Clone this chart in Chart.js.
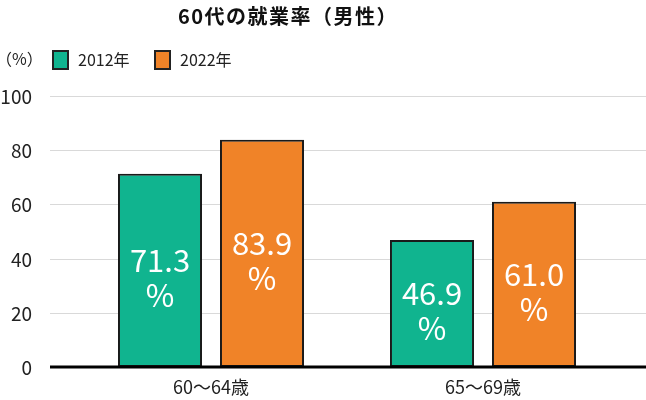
<!DOCTYPE html>
<html><head><meta charset="utf-8">
<script src="https://cdn.jsdelivr.net/npm/chart.js@4/dist/chart.umd.min.js"></script>
<style>html,body{margin:0;padding:0;background:#fff}#wrap{width:646px;height:400px}</style>
</head><body><div id="wrap"><canvas id="c" width="646" height="400"></canvas></div>
<script>
const categories = ['60〜64歳', '65〜69歳'];
const seriesNames = ['2012年', '2022年'];
const values2012 = [71.3, 46.9];
const values2022 = [83.9, 61.0];
const yTicks = [0, 20, 40, 60, 80, 100];
const colors = ['#10B48F', '#F08328'];
const FONT = '"Noto Sans CJK JP", "Noto Sans", sans-serif';

const extras = {
  id: 'extras',
  beforeDatasetsDraw(chart) {
    const ctx = chart.ctx, y = chart.scales.y;
    ctx.save();
    ctx.strokeStyle = '#d9d9d9'; ctx.lineWidth = 1;
    ctx.fillStyle = '#222'; ctx.textAlign = 'right'; ctx.textBaseline = 'middle';
    ctx.font = '19px ' + FONT;
    yTicks.forEach(v => {
      const py = Math.round(y.getPixelForValue(v)) + 0.5;
      ctx.fillText(String(v), 32, py);
      if (v === 0) return;
      ctx.beginPath(); ctx.moveTo(50, py); ctx.lineTo(646, py); ctx.stroke();
    });
    ctx.restore();
  },
  afterDatasetsDraw(chart) {
    const ctx = chart.ctx, y = chart.scales.y;
    ctx.save();
    ctx.strokeStyle = '#000'; ctx.lineWidth = 3;
    const by = y.getPixelForValue(0);
    ctx.beginPath(); ctx.moveTo(50, by); ctx.lineTo(646, by); ctx.stroke();
    ctx.fillStyle = '#fff'; ctx.textAlign = 'center'; ctx.textBaseline = 'middle';
    ctx.font = '31px ' + FONT;
    chart.data.datasets.forEach((ds, di) => {
      chart.getDatasetMeta(di).data.forEach((bar, i) => {
        const mid = (bar.y + bar.base) / 2;
        ctx.fillText(ds.data[i].toFixed(1), bar.x, mid - 10);
        ctx.fillText('%', bar.x, mid + 25);
      });
    });
    ctx.textAlign = 'left'; ctx.fillStyle = '#222';
    ctx.font = '16px ' + FONT;
    ctx.fillText('（%）', -4, 59);
    const lx = [52, 154];
    seriesNames.forEach((n, i) => {
      ctx.fillStyle = colors[i]; ctx.fillRect(lx[i], 50, 17, 20);
      ctx.strokeStyle = '#222'; ctx.lineWidth = 2; ctx.strokeRect(lx[i] + 1, 51, 15, 18);
      ctx.fillStyle = '#222'; ctx.fillText(n, lx[i] + 26, 60);
    });
    ctx.fillStyle = '#111'; ctx.textAlign = 'center';
    ctx.font = 'bold 20px ' + FONT;
    try { ctx.letterSpacing = '1.5px'; } catch (e) {}
    ctx.fillText('60代の就業率（男性）', 288, 16);
    ctx.restore();
  }
};

new Chart(document.getElementById('c'), {
  type: 'bar',
  data: {
    labels: categories,
    datasets: [
      { label: seriesNames[0], data: values2012, backgroundColor: colors[0], borderColor: '#1a1a1a', borderWidth: 2, borderSkipped: false },
      { label: seriesNames[1], data: values2022, backgroundColor: colors[1], borderColor: '#1a1a1a', borderWidth: 2, borderSkipped: false }
    ]
  },
  options: {
    responsive: false, animation: false,
    layout: { padding: { top: 96, right: 27, bottom: 0, left: 0 } },
    datasets: { bar: { categoryPercentage: 0.75, barPercentage: 0.824 } },
    plugins: { legend: { display: false }, tooltip: { enabled: false }, title: { display: false } },
    scales: {
      x: {
        grid: { display: false, drawTicks: false }, border: { display: false },
        ticks: { color: '#222', font: { family: FONT, size: 18 }, padding: 9 },
        afterFit(s) { s.height = 33; }
      },
      y: {
        min: 0, max: 100,
        afterBuildTicks(s) { s.ticks = yTicks.map(v => ({ value: v })); },
        grid: { display: false, drawTicks: false }, border: { display: false },
        ticks: { display: false },
        afterFit(s) { s.width = 75; }
      }
    }
  },
  plugins: [extras]
});
</script></body></html>
